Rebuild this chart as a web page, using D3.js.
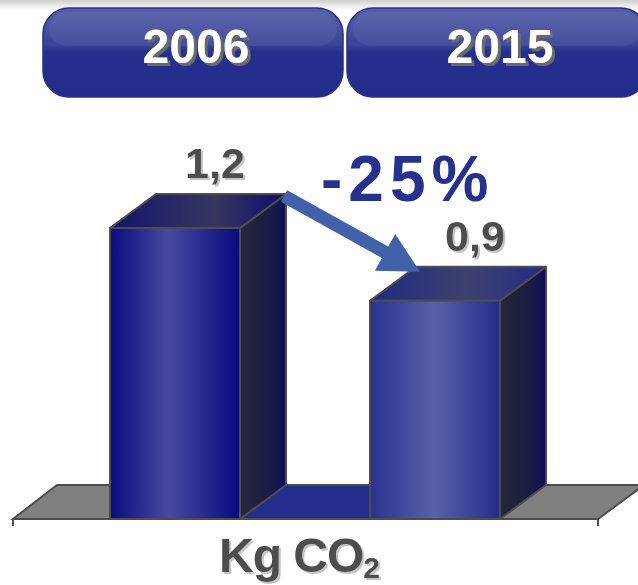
<!doctype html>
<html>
<head>
<script src="https://d3js.org/d3.v7.min.js"></script>
<style>
  body { margin: 0; background: #fff; }
  text { font-family: "Liberation Sans", Arial, sans-serif; font-weight: bold; }
</style>
</head>
<body>
<svg width="638" height="585"></svg>
<script>
// data
var years = ["2006", "2015"];
var values = [1.2, 0.9];
var valueLabels = ["1,2", "0,9"];
var changeLabel = "-25%";
var unitLabel = "Kg CO";
var unitSub = "2";

var svg = d3.select("svg");
var defs = svg.append("defs");

// depth of the 3d boxes
var dx = 46, dy = -34;

var x = d3.scaleBand().domain(years).range([45, 565]).paddingInner(0.5).paddingOuter(0.25);
var y = d3.scaleLinear().domain([0, 1.2]).range([519, 228]);
var hx = d3.scaleBand().domain(years).range([43, 647]).paddingInner(4 / 304);

function hGrad(id, stops) {
  var g = defs.append("linearGradient").attr("id", id).attr("x1", 0).attr("x2", 1).attr("y1", 0).attr("y2", 0);
  stops.forEach(function(s) { g.append("stop").attr("offset", s[0]).attr("stop-color", s[1]); });
}
function vGrad(id, stops) {
  var g = defs.append("linearGradient").attr("id", id).attr("x1", 0).attr("x2", 0).attr("y1", 0).attr("y2", 1);
  stops.forEach(function(s) { g.append("stop").attr("offset", s[0]).attr("stop-color", s[1]); });
}
function shadow(id, d, col) {
  defs.append("filter").attr("id", id).attr("x", "-10%").attr("y", "-10%").attr("width", "130%").attr("height", "130%")
    .append("feDropShadow").attr("dx", d).attr("dy", d).attr("stdDeviation", 0.6)
    .attr("flood-color", col).attr("flood-opacity", 1);
}

// bar colours
hGrad("front0", [[0, "#0b0b7e"], [0.45, "#4749a0"], [0.95, "#0d0f82"], [1, "#080878"]]);
hGrad("front1", [[0, "#28338f"], [0.5, "#5861a8"], [1, "#222d8b"]]);
hGrad("side", [[0, "#262638"], [0.6, "#1c1d45"], [1, "#0e0e58"]]);
hGrad("top0", [[0, "#14146e"], [0.6, "#36365e"], [1, "#0c0c72"]]);
hGrad("top1", [[0, "#1f2a80"], [0.55, "#3e416e"], [1, "#232d88"]]);
vGrad("btn", [[0, "#565fab"], [0.4, "#3c4699"], [0.5, "#252f8d"], [1, "#222d8b"]]);
vGrad("topShade", [[0, "#cfcfcf"], [1, "#ffffff"]]);
shadow("grayShadow", 2, "#c4c4c4");
shadow("btnShadow", 3, "#6a6a6a");

// faint shadow at top edge
svg.append("rect").attr("x", 0).attr("y", 0).attr("width", 638).attr("height", 10)
  .attr("fill", "url(#topShade)");

// header buttons
var hdr = svg.selectAll(".hdr").data(years).enter().append("g").attr("class", "hdr");
hdr.append("rect")
  .attr("x", d => hx(d)).attr("y", 8)
  .attr("width", hx.bandwidth()).attr("height", 89)
  .attr("rx", 26).attr("ry", 26)
  .attr("fill", "url(#btn)")
  .attr("stroke", "#2a3282").attr("stroke-width", 1.5);
hdr.append("rect")
  .attr("x", d => hx(d) + 6).attr("y", 12)
  .attr("width", hx.bandwidth() - 12).attr("height", 34)
  .attr("rx", 18).attr("ry", 18)
  .attr("fill", "#ffffff").attr("opacity", 0.05);
hdr.append("text")
  .attr("x", d => hx(d) + hx.bandwidth() / 2 + 3).attr("y", 63)
  .attr("text-anchor", "middle").attr("font-size", 48)
  .attr("fill", "#ffffff").attr("filter", "url(#btnShadow)").text(d => d);

// floor
var y0 = y(0);
var fl = x.range()[0] - 32, fr = x.range()[1] + 33;
svg.append("path")
  .attr("d", d3.line()([[fl, y0], [fl + dx - 2, y0 + dy], [fr + dx, y0 + dy], [fr, y0]]) + "Z")
  .attr("fill", "#808080").attr("stroke", "#4d4d4d").attr("stroke-width", 2);
// blue floor strip between the bars
var gapL = x(years[0]) + x.bandwidth(), gapR = x(years[1]);
svg.append("path")
  .attr("d", d3.line()([[gapL, y0], [gapL + dx, y0 + dy], [gapR, y0 + dy], [gapR, y0]]) + "Z")
  .attr("fill", "#232d8b").attr("stroke", "#4d4d4d").attr("stroke-width", 2);
// front edge ticks
svg.append("line").attr("x1", fl).attr("x2", fr).attr("y1", y0).attr("y2", y0)
  .attr("stroke", "#4d4d4d").attr("stroke-width", 2);
[fl, fr].forEach(function(px) {
  svg.append("line").attr("x1", px).attr("x2", px).attr("y1", y0).attr("y2", y0 + 7)
    .attr("stroke", "#4d4d4d").attr("stroke-width", 2);
});

// bars
var bars = svg.selectAll(".bar").data(years).enter().append("g").attr("class", "bar");
bars.append("path")
  .attr("d", function(d, i) {
    var x1 = x(d) + x.bandwidth(), yt = y(values[i]);
    return d3.line()([[x1, y0], [x1, yt], [x1 + dx, yt + dy], [x1 + dx, y0 + dy]]) + "Z";
  })
  .attr("fill", "url(#side)").attr("stroke", "#4d4d4d").attr("stroke-width", 2).attr("stroke-linejoin", "round");
bars.append("path")
  .attr("d", function(d, i) {
    var x0 = x(d), x1 = x0 + x.bandwidth(), yt = y(values[i]);
    return d3.line()([[x0, yt], [x0 + dx, yt + dy], [x1 + dx, yt + dy], [x1, yt]]) + "Z";
  })
  .attr("fill", (d, i) => "url(#top" + i + ")").attr("stroke", "#4d4d4d").attr("stroke-width", 2).attr("stroke-linejoin", "round");
bars.append("rect")
  .attr("x", d => x(d)).attr("y", (d, i) => y(values[i]))
  .attr("width", x.bandwidth()).attr("height", (d, i) => y0 - y(values[i]))
  .attr("fill", (d, i) => "url(#front" + i + ")").attr("stroke", "#4d4d4d").attr("stroke-width", 2);

// value labels
bars.append("text")
  .attr("x", d => x(d) + x.bandwidth() / 2 + 40).attr("y", (d, i) => y(values[i]) + dy - 16)
  .attr("text-anchor", "middle").attr("font-size", 43).attr("fill", "#4d4d4d")
  .attr("filter", "url(#grayShadow)")
  .text((d, i) => valueLabels[i]);

// arrow from first bar to second
var p0 = [x(years[0]) + x.bandwidth() + dx - 2, y(values[0]) + dy + 2];
var p1 = [x(years[1]) + 50, y(values[1]) + dy + 5];
var vx = p1[0] - p0[0], vy = p1[1] - p0[1], len = Math.hypot(vx, vy);
var ux = vx / len, uy = vy / len, nx = -uy, ny = ux;
var sw = 6.5, hl = 40, hw = 21;
var bx = p1[0] - ux * hl, by = p1[1] - uy * hl;
svg.append("path")
  .attr("d", d3.line()([
    [p0[0] + nx * sw, p0[1] + ny * sw],
    [bx + nx * sw, by + ny * sw],
    [bx + nx * hw, by + ny * hw],
    p1,
    [bx - nx * hw, by - ny * hw],
    [bx - nx * sw, by - ny * sw],
    [p0[0] - nx * sw, p0[1] - ny * sw]
  ]) + "Z")
  .attr("fill", "#4161a9");

svg.append("text")
  .attr("x", 321).attr("y", 201)
  .attr("font-size", 64).attr("letter-spacing", 6)
  .attr("fill", "#26318e").text(changeLabel);

// unit label
var cx = (x.range()[0] + x.range()[1]) / 2;
var unit = svg.append("text").attr("x", cx - 6).attr("y", 572)
  .attr("text-anchor", "middle").attr("font-size", 48).attr("fill", "#4d4d4d")
  .attr("letter-spacing", -1).attr("filter", "url(#grayShadow)");
unit.append("tspan").text(unitLabel);
unit.append("tspan").attr("dy", 6).attr("font-size", 30).text(unitSub);
</script>
</body>
</html>
